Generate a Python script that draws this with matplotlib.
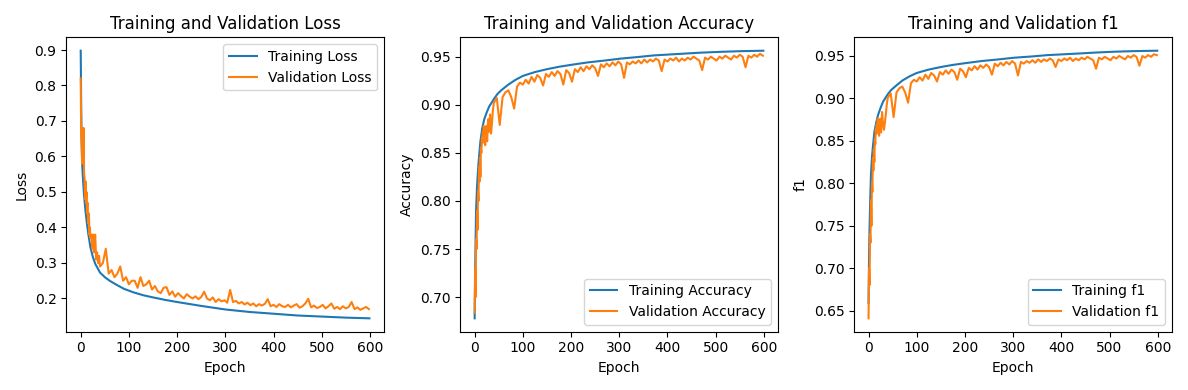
import matplotlib
matplotlib.use("Agg")
import matplotlib.pyplot as plt

train_loss_epochs = [0, 1, 2, 3, 5, 7, 10, 13, 16, 20, 25, 30, 40, 50, 60, 75, 90, 110, 130, 150,
                     175, 200, 250, 300, 350, 400, 450, 500, 550, 599]
train_loss = [0.898, 0.74, 0.64, 0.58, 0.53, 0.49, 0.445, 0.41, 0.38, 0.345, 0.318, 0.298, 0.273,
              0.26, 0.25, 0.238, 0.227, 0.217, 0.209, 0.203, 0.196, 0.19, 0.179, 0.169, 0.162,
              0.157, 0.152, 0.149, 0.146, 0.144]

train_metric_epochs = [0, 1, 2, 3, 5, 7, 9, 12, 16, 20, 25, 30, 40, 47, 55, 70, 85, 100, 125, 150,
                       175, 200, 234, 270, 303, 340, 371, 405, 439, 470, 508, 550, 599]
train_acc = [0.678, 0.72, 0.76, 0.79, 0.815, 0.832, 0.845, 0.862, 0.876, 0.885, 0.892, 0.898,
             0.906, 0.911, 0.915, 0.921, 0.926, 0.930, 0.934, 0.937, 0.9395, 0.9415, 0.944,
             0.946, 0.948, 0.9497, 0.9513, 0.9523, 0.9533, 0.9542, 0.955, 0.9557, 0.9562]
train_f1 = [0.659, 0.71, 0.745, 0.77, 0.81, 0.83, 0.843, 0.86, 0.872, 0.881, 0.889, 0.896,
            0.905, 0.91, 0.914, 0.921, 0.926, 0.930, 0.934, 0.937, 0.9395, 0.9415, 0.944,
            0.946, 0.948, 0.9495, 0.951, 0.952, 0.953, 0.954, 0.955, 0.9557, 0.9562]

# validation curves are noisy, so they were read on a denser grid
val_epochs = list(range(0, 21)) + list(range(22, 40, 2)) + list(range(40, 600, 6))

val_loss = [0.82, 0.66, 0.63, 0.58, 0.68, 0.60, 0.68, 0.55, 0.54, 0.48, 0.53, 0.47, 0.50, 0.44,
            0.47, 0.42, 0.41, 0.44, 0.38, 0.40, 0.37,
            0.38, 0.34, 0.38, 0.33, 0.38, 0.31, 0.33, 0.30, 0.32,
            0.29, 0.30, 0.34, 0.27, 0.28, 0.26, 0.27, 0.29, 0.25, 0.26,
            0.24, 0.25, 0.25, 0.23, 0.26, 0.235, 0.24, 0.25, 0.225, 0.235,
            0.22, 0.215, 0.23, 0.232, 0.21, 0.22, 0.205, 0.215, 0.207, 0.2,
            0.212, 0.205, 0.2, 0.206, 0.198, 0.204, 0.219, 0.2, 0.195, 0.203,
            0.19, 0.198, 0.192, 0.195, 0.188, 0.224, 0.19, 0.193, 0.186, 0.19,
            0.183, 0.188, 0.181, 0.186, 0.178, 0.184, 0.18, 0.185, 0.198, 0.178,
            0.182, 0.176, 0.184, 0.178, 0.176, 0.182, 0.175, 0.18, 0.184, 0.174,
            0.178, 0.186, 0.199, 0.175, 0.18, 0.173, 0.176, 0.182, 0.172, 0.178,
            0.186, 0.171, 0.176, 0.17, 0.178, 0.172, 0.176, 0.19, 0.17, 0.175,
            0.168, 0.172, 0.176, 0.17]

val_acc = [0.684, 0.73, 0.70, 0.76, 0.75, 0.79, 0.77, 0.81, 0.80, 0.835, 0.82, 0.845, 0.825,
           0.855, 0.85, 0.866, 0.86, 0.872, 0.862, 0.878, 0.865,
           0.858, 0.878, 0.862, 0.885, 0.872, 0.89, 0.87, 0.881, 0.895,
           0.902, 0.907, 0.879, 0.908, 0.913, 0.915, 0.908, 0.896, 0.919, 0.923,
           0.921, 0.926, 0.922, 0.929, 0.924, 0.931, 0.928, 0.92, 0.932, 0.929,
           0.934, 0.93, 0.935, 0.932, 0.921, 0.936, 0.933, 0.924, 0.937, 0.934,
           0.939, 0.935, 0.94, 0.937, 0.941, 0.938, 0.93, 0.942, 0.939, 0.943,
           0.94, 0.944, 0.941, 0.945, 0.942, 0.928, 0.944, 0.942, 0.945, 0.943,
           0.946, 0.943, 0.947, 0.944, 0.947, 0.945, 0.948, 0.946, 0.935, 0.947,
           0.945, 0.948, 0.946, 0.949, 0.945, 0.948, 0.946, 0.949, 0.947, 0.95,
           0.948, 0.946, 0.936, 0.949, 0.947, 0.95, 0.948, 0.946, 0.95, 0.948,
           0.951, 0.949, 0.947, 0.951, 0.949, 0.952, 0.95, 0.939, 0.951, 0.949,
           0.952, 0.95, 0.953, 0.951]

val_f1 = [0.641, 0.70, 0.68, 0.74, 0.73, 0.78, 0.75, 0.80, 0.79, 0.83, 0.815, 0.84, 0.825,
          0.852, 0.846, 0.864, 0.858, 0.87, 0.86, 0.876, 0.864,
          0.856, 0.876, 0.86, 0.884, 0.87, 0.863, 0.872, 0.882, 0.894,
          0.901, 0.906, 0.878, 0.907, 0.912, 0.914, 0.907, 0.895, 0.918, 0.922,
          0.92, 0.925, 0.921, 0.928, 0.923, 0.93, 0.927, 0.92, 0.931, 0.928,
          0.933, 0.929, 0.934, 0.931, 0.922, 0.935, 0.932, 0.925, 0.936, 0.933,
          0.938, 0.934, 0.939, 0.936, 0.94, 0.937, 0.928, 0.941, 0.938, 0.942,
          0.939, 0.943, 0.94, 0.944, 0.941, 0.927, 0.943, 0.941, 0.944, 0.942,
          0.945, 0.942, 0.946, 0.943, 0.946, 0.944, 0.947, 0.945, 0.937, 0.946,
          0.944, 0.947, 0.945, 0.948, 0.944, 0.947, 0.945, 0.948, 0.946, 0.949,
          0.947, 0.945, 0.935, 0.948, 0.946, 0.949, 0.947, 0.945, 0.949, 0.947,
          0.95, 0.948, 0.946, 0.95, 0.948, 0.951, 0.949, 0.9385, 0.95, 0.948,
          0.951, 0.949, 0.952, 0.951]

panels = [
    ("Loss", train_loss_epochs, train_loss, val_loss, "upper right"),
    ("Accuracy", train_metric_epochs, train_acc, val_acc, "lower right"),
    ("f1", train_metric_epochs, train_f1, val_f1, "lower right"),
]

fig, axes = plt.subplots(1, 3, figsize=(11.88, 3.9), dpi=100)
for ax, (name, tr_epochs, tr_vals, va_vals, loc) in zip(axes, panels):
    ax.plot(tr_epochs, tr_vals, label="Training {}".format(name))
    ax.plot(val_epochs, va_vals, label="Validation {}".format(name))
    ax.set_title("Training and Validation {}".format(name))
    ax.set_xlabel("Epoch")
    ax.set_ylabel(name)
    ax.legend(loc=loc)

plt.tight_layout()
fig.savefig("out.png")
